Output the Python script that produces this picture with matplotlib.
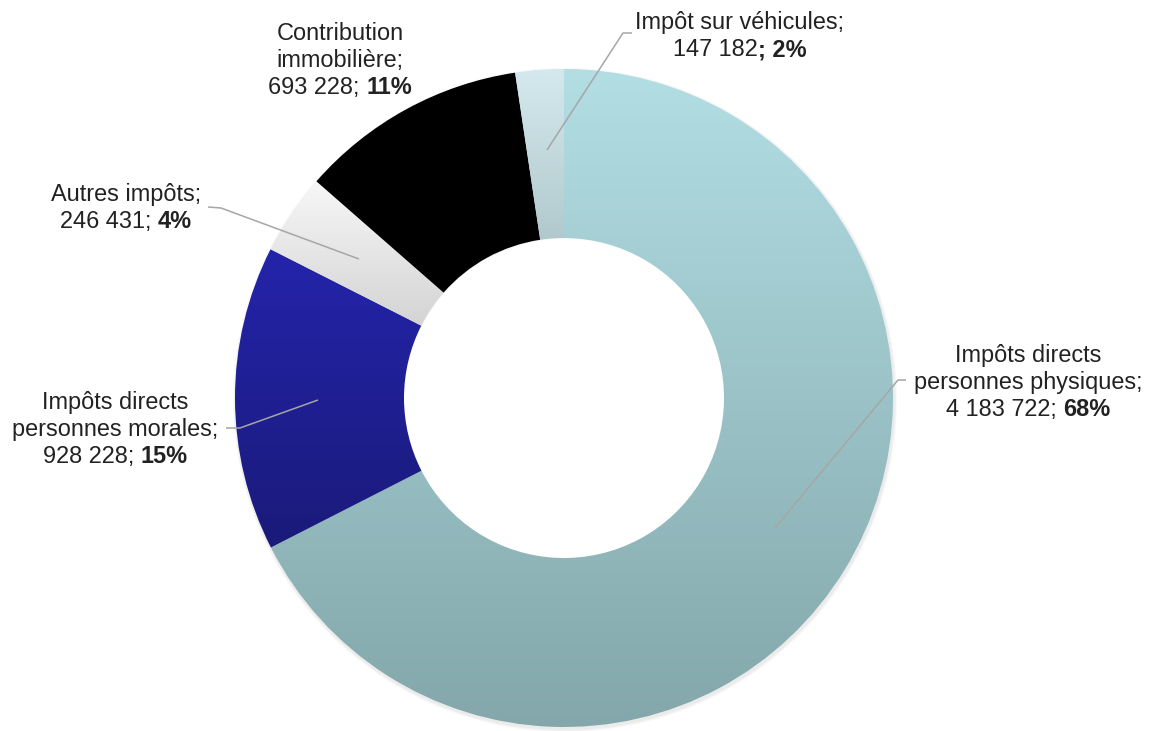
"""Donut chart: breakdown of tax revenue (recreated)."""
import numpy as np
import matplotlib

matplotlib.use("Agg")
import matplotlib.pyplot as plt
from matplotlib.patches import Wedge
from matplotlib.colors import to_rgb

# --------------------------------------------------------------------------- #
# Data
# --------------------------------------------------------------------------- #
names = [
    ["Impôts directs", "personnes physiques;"],
    ["Impôts directs", "personnes morales;"],
    ["Autres impôts;"],
    ["Contribution", "immobilière;"],
    ["Impôt sur véhicules;"],
]
values = [4183722, 928228, 246431, 693228, 147182]
value_labels = ["4 183 722", "928 228", "246 431", "693 228", "147 182"]
pct_labels = ["68%", "15%", "4%", "11%", "2%"]
bold_semicolon = [False, False, False, False, True]

# gradient (top, bottom) per slice
grad_colors = [
    ("#b2dee4", "#83a7aa"),
    ("#2424ab", "#1a1a7a"),
    ("#f7f7f7", "#c2c2c2"),
    ("#000000", "#000000"),
    ("#d4e9ed", "#90abae"),
]

# --------------------------------------------------------------------------- #
# Layout (image pixel coords, y measured from top)
# --------------------------------------------------------------------------- #
W_PX, H_PX = 1151, 731
CX, CY = 564, 398
R_OUT, R_IN = 329, 160
FS = 16.9
LINE = 27
TXT = "#222222"
LEAD = "#a6a6a6"

# top-line baseline (x centre, y) for each label
label_pos = [(1028, 362), (115, 409), (126, 201), (340, 40), (740, 29)]
# leader polylines
leaders = [
    [(775, 528), (898, 380), (906, 380)],
    [(318, 400), (240, 428), (226, 428)],
    [(359, 259), (221, 208), (208, 207)],
    None,
    [(547, 150), (623, 33), (632, 33)],
]


def fy(y):
    return H_PX - y


fig = plt.figure(figsize=(W_PX / 100, H_PX / 100), dpi=100)
ax = fig.add_axes([0, 0, 1, 1])
ax.set_axis_off()
plt.rcParams["font.family"] = ["Liberation Sans", "DejaVu Sans"]

# soft shadow round the ring
for k, a in enumerate([0.05, 0.05, 0.05]):
    sh = Wedge((CX + 1, fy(CY) - 2), R_OUT + 1 + k, 0, 360, width=R_OUT - R_IN,
               facecolor="#808080", edgecolor="none", alpha=a, zorder=0)
    ax.add_patch(sh)

total = sum(values)
theta = 90.0
for val, (top, bot) in zip(values, grad_colors):
    t2 = theta
    t1 = theta - 360.0 * val / total
    theta = t1
    w = Wedge((CX, fy(CY)), R_OUT, t1, t2, width=R_OUT - R_IN,
              facecolor="none", edgecolor="none", zorder=1)
    ax.add_patch(w)
    verts = w.get_path().vertices
    x0, x1 = verts[:, 0].min(), verts[:, 0].max()
    y0, y1 = verts[:, 1].min(), verts[:, 1].max()
    s = np.linspace(0, 1, 256)[:, None]
    img = (1 - s) * np.array(to_rgb(bot)) + s * np.array(to_rgb(top))
    img = img[:, None, :]
    im = ax.imshow(img, extent=(x0, x1, y0, y1), origin="lower", aspect="auto",
                   interpolation="bilinear", zorder=1)
    im.set_clip_path(w)

# leader lines
for pts in leaders:
    if pts is None:
        continue
    xs = [p[0] for p in pts]
    ys = [fy(p[1]) for p in pts]
    ax.plot(xs, ys, color=LEAD, lw=1.1, zorder=2, solid_capstyle="butt")

# labels
renderer = fig.canvas.get_renderer()
space_px = 0.278 * FS * 100 / 72
for lines, vlab, plab, bsemi, (xc, yb) in zip(names, value_labels, pct_labels,
                                               bold_semicolon, label_pos):
    for i, ln in enumerate(lines):
        ax.text(xc, fy(yb + i * LINE), ln, fontsize=FS, color=TXT,
                ha="center", va="baseline")
    y_last = fy(yb + len(lines) * LINE)
    if bsemi:
        parts = [(vlab, "normal"), ("; " + plab, "bold")]
        gap = 0
    else:
        parts = [(vlab + ";", "normal"), (plab, "bold")]
        gap = space_px
    arts, widths = [], []
    for txt, wt in parts:
        t = ax.text(0, y_last, txt, fontsize=FS, fontweight=wt, color=TXT,
                    ha="left", va="baseline")
        arts.append(t)
        widths.append(t.get_window_extent(renderer).width)
    x = xc - (sum(widths) + gap) / 2
    for t, wd in zip(arts, widths):
        t.set_x(x)
        x += wd + gap

ax.set_xlim(0, W_PX)
ax.set_ylim(0, H_PX)
fig.savefig("out.png", dpi=100, facecolor="white")
